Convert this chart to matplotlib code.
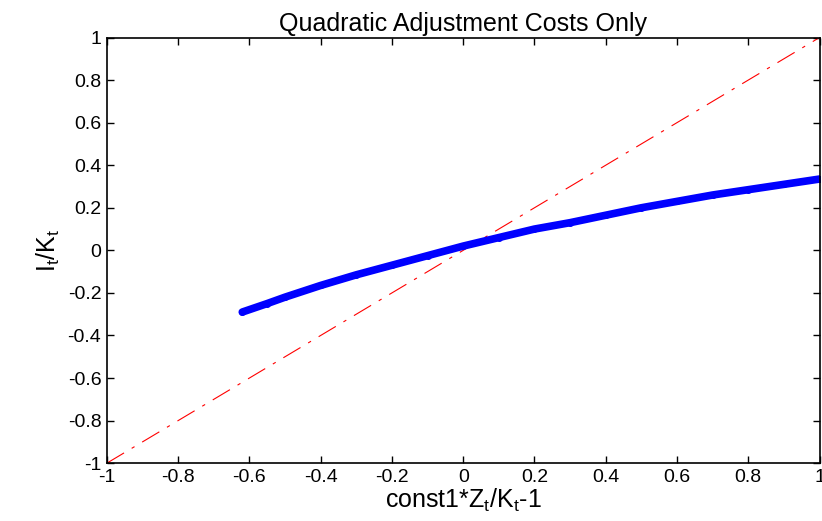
import matplotlib
matplotlib.use("Agg")
import matplotlib.pyplot as plt

plt.rcParams['font.family'] = ['Liberation Sans', 'DejaVu Sans']

# investment rate vs. scaled productivity
x_vals = [-0.62, -0.55, -0.5, -0.4, -0.3, -0.2, -0.1, 0.0, 0.1, 0.2,
          0.3, 0.4, 0.5, 0.6, 0.7, 0.8, 0.9, 1.0]
ik_vals = [-0.29, -0.25, -0.22, -0.165, -0.115, -0.07, -0.025, 0.02, 0.06, 0.10,
           0.13, 0.165, 0.20, 0.23, 0.26, 0.285, 0.31, 0.335]

# 45 degree reference line
diag = [-1, 1]

ticks = [-1, -0.8, -0.6, -0.4, -0.2, 0, 0.2, 0.4, 0.6, 0.8, 1]
tick_labels = ['-1', '-0.8', '-0.6', '-0.4', '-0.2', '0', '0.2', '0.4', '0.6', '0.8', '1']

fig = plt.figure(figsize=(8.22, 5.21), dpi=100)
ax = fig.add_axes([0.130, 0.111, 0.867, 0.817])

ax.plot(diag, diag, color='red', linestyle='-.', linewidth=0.8, dashes=(18, 8, 3, 8))
ax.plot(x_vals, ik_vals, color='blue', linewidth=5.5, marker='o', markersize=4,
        solid_capstyle='round')

ax.set_xlim(-1, 1)
ax.set_ylim(-1, 1)
ax.set_xticks(ticks)
ax.set_xticklabels(tick_labels)
ax.set_yticks(ticks)
ax.set_yticklabels(tick_labels)
ax.tick_params(direction='in', length=5, width=1, labelsize=14, top=True, right=True,
               pad=4)
for s in ax.spines.values():
    s.set_linewidth(1.2)

ax.set_title('Quadratic Adjustment Costs Only', fontsize=18, pad=5)
ax.set_xlabel(r'const1*Z$_\mathregular{t}$/K$_\mathregular{t}$-1', fontsize=18, labelpad=1)
ax.set_ylabel(r'I$_\mathregular{t}$/K$_\mathregular{t}$', fontsize=18, labelpad=4)

fig.savefig('out.png', dpi=100)
